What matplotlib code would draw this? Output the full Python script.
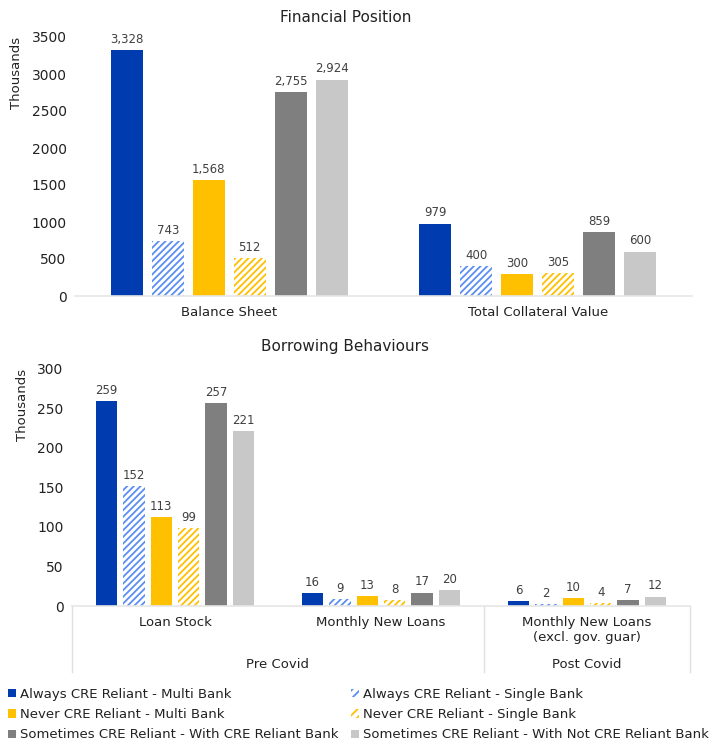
import matplotlib
matplotlib.use("Agg")
import matplotlib.pyplot as plt
import numpy as np
from matplotlib.patches import Patch
from matplotlib.transforms import blended_transform_factory

plt.rcParams['font.family'] = ['DejaVu Sans']
plt.rcParams['hatch.linewidth'] = 1.3

series = [
    "Always CRE Reliant - Multi Bank",
    "Always CRE Reliant - Single Bank",
    "Never CRE Reliant - Multi Bank",
    "Never CRE Reliant - Single Bank",
    "Sometimes CRE Reliant - With CRE Reliant Bank",
    "Sometimes CRE Reliant - With Not CRE Reliant Bank",
]
colors = ["#003BB0", "#5A8EF2", "#FFC000", "#FFC000", "#7F7F7F", "#C8C8C8"]
hatched = [False, True, False, True, False, False]

fin_categories = ["Balance Sheet", "Total Collateral Value"]
fin_values = [
    [3328, 979],
    [743, 400],
    [1568, 300],
    [512, 305],
    [2755, 859],
    [2924, 600],
]

bor_categories = ["Loan Stock", "Monthly New Loans", "Monthly New Loans\n(excl. gov. guar)"]
bor_groups = ["Pre Covid", "Post Covid"]
bor_values = [
    [259, 16, 6],
    [152, 9, 2],
    [113, 13, 10],
    [99, 8, 4],
    [257, 17, 7],
    [221, 20, 12],
]

W, H = 710, 740
fig = plt.figure(figsize=(W / 100, H / 100), dpi=100)
TXT = "#222222"


def px_axes(x0, x1, ytop, ybot):
    return fig.add_axes([x0 / W, 1 - ybot / H, (x1 - x0) / W, (ybot - ytop) / H])


def draw_bars(ax, categories, values):
    n = len(series)
    x = np.arange(len(categories))
    width = 0.104
    step = 0.133
    for i, vals in enumerate(values):
        off = (i - (n - 1) / 2) * step
        if hatched[i]:
            bars = ax.bar(x + off, vals, width, facecolor="white", edgecolor=colors[i],
                          hatch="/////", linewidth=0)
        else:
            bars = ax.bar(x + off, vals, width, color=colors[i], linewidth=0)
        ax.bar_label(bars, labels=[f"{v:,.0f}" for v in vals], padding=3,
                     fontsize=8.5, color="#404040")
    ax.set_xlim(-0.5, len(categories) - 0.5)
    ax.set_xticks(x)
    ax.set_xticklabels(categories, fontsize=9.5, color=TXT)
    for s in ["top", "right", "left"]:
        ax.spines[s].set_visible(False)
    ax.spines["bottom"].set_color("#E6E6E6")
    ax.spines["bottom"].set_linewidth(1.2)
    ax.tick_params(axis="x", length=0, pad=7)
    ax.tick_params(axis="y", length=0, labelsize=10, colors=TXT, pad=6)
    ax.set_ylabel("Thousands", fontsize=9.5, color=TXT, loc="top", labelpad=6)


# Financial position panel
ax1 = px_axes(75, 692, 37, 296)
draw_bars(ax1, fin_categories, fin_values)
ax1.set_ylim(0, 3500)
ax1.set_yticks(np.arange(0, 3501, 500))
fig.text(346 / W, 1 - 17 / H, "Financial Position", ha="center", va="center",
         fontsize=11, color=TXT)

# Borrowing behaviours panel
ax2 = px_axes(72, 690, 369, 606)
draw_bars(ax2, bor_categories, bor_values)
ax2.set_ylim(0, 300)
ax2.set_yticks(np.arange(0, 301, 50))
fig.text(345 / W, 1 - 347 / H, "Borrowing Behaviours", ha="center", va="center",
         fontsize=11, color=TXT)

# Group separators and group labels under the category axis
trans = blended_transform_factory(ax2.transData, fig.transFigure)
y_top = 1 - 606 / H
y_bot = 1 - 672 / H
for xs in [-0.5, 1.5, 2.5]:
    ax2.plot([xs, xs], [y_top, y_bot], transform=trans, color="#E0E0E0",
             linewidth=1.0, clip_on=False)
ax2.text(0.5, 1 - 664 / H, bor_groups[0], transform=trans, ha="center", va="center",
         fontsize=9.5, color=TXT)
ax2.text(2.0, 1 - 664 / H, bor_groups[1], transform=trans, ha="center", va="center",
         fontsize=9.5, color=TXT)

# Legend
handles = []
for i, name in enumerate(series):
    if hatched[i]:
        handles.append(Patch(facecolor="white", edgecolor=colors[i], hatch="////",
                             linewidth=0, label=name))
    else:
        handles.append(Patch(facecolor=colors[i], linewidth=0, label=name))
order = [0, 2, 4, 1, 3, 5]
fig.legend([handles[k] for k in order], [series[k] for k in order],
           loc="upper left", bbox_to_anchor=(0 / W, 1 - 680 / H), ncol=2,
           frameon=False, fontsize=9.5, handlelength=0.6, handleheight=0.6,
           handletextpad=0.3, columnspacing=1.0, labelspacing=0.55,
           borderaxespad=0.2, labelcolor=TXT)

fig.savefig("out.png", dpi=100, facecolor="white")
